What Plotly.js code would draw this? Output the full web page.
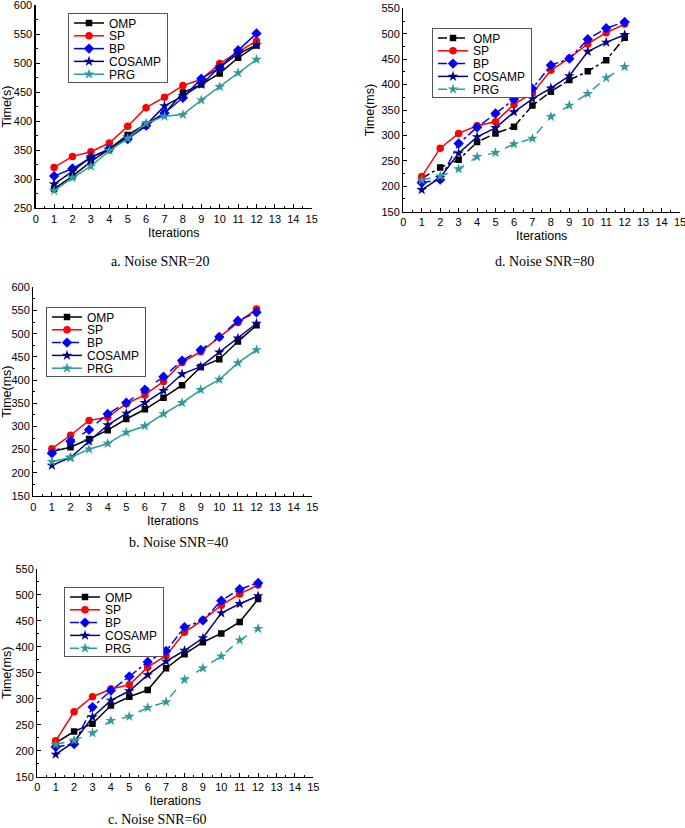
<!DOCTYPE html>
<html>
<head>
<meta charset="utf-8">
<script src="https://cdn.plot.ly/plotly-3.0.1.min.js"></script>
<style>html,body{margin:0;padding:0;background:#fff;}#chart{width:685px;height:828px;}</style>
</head>
<body>
<div id="chart"></div>
<script>
// ---- data ----
const iterations = [1,2,3,4,5,6,7,8,9,10,11,12];
const seriesNames = ['OMP','SP','BP','COSAMP','PRG'];

// a. Noise SNR=20  (Time in s)
const a_OMP    = [283,305,330,352,376,394,413,449,463,482,509,530];
const a_SP     = [320,339,347,362,391,423,441,461,472,499,519,538];
const a_BP     = [305,318,337,352,369,392,414,440,473,492,522,551];
const a_COSAMP = [291,313,338,351,372,393,426,443,463,493,516,531];
const a_PRG    = [280,302,322,349,370,396,408,411,436,459,483,506];

// b. Noise SNR=40  (Time in ms)
const b_OMP    = [246,255,273,292,316,337,362,389,428,445,483,518];
const b_SP     = [252,281,313,320,349,368,397,438,461,493,524,553];
const b_BP     = [242,268,293,327,351,379,407,442,465,493,528,546];
const b_COSAMP = [216,233,268,303,328,351,377,413,429,460,490,522];
const b_PRG    = [224,233,251,263,287,301,327,351,379,401,437,465];

// c. Noise SNR=60  (Time in ms)
const c_OMP    = [215,237,252,287,304,317,359,386,409,426,448,492];
const c_SP     = [219,275,304,319,327,361,383,428,452,480,502,519];
const c_BP     = [207,213,284,316,343,371,392,438,451,489,511,523];
const c_COSAMP = [193,217,265,297,315,346,372,393,417,465,483,498];
const c_PRG    = [212,220,234,258,266,283,294,337,359,382,413,435];

// d. Noise SNR=80  (Time in ms)
const d_OMP    = [215,237,252,287,304,317,359,386,409,426,448,492];
const d_SP     = [219,275,304,319,327,361,383,428,452,480,502,519];
const d_BP     = [207,213,284,316,343,371,392,438,451,489,511,523];
const d_COSAMP = [193,217,265,297,315,346,372,393,417,465,483,498];
const d_PRG    = [212,220,234,258,266,283,294,337,359,382,413,435];

const xTickVals = [0,1,2,3,4,5,6,7,8,9,10,11,12,13,14,15];

// ---- styles ----
const colors = {OMP:'#000000', SP:'#ff0000', BP:'#0000ff', COSAMP:'#000080', PRG:'#2f9a9a'};
const symbols = {OMP:'square', SP:'circle', BP:'diamond', COSAMP:'star', PRG:'star'};
const msize = {OMP:6.5, SP:7.5, BP:8, COSAMP:8, PRG:8};

const panels = [
  {key:'a', xa:'x',  ya:'y',  legend:'legend',  data:[a_OMP,a_SP,a_BP,a_COSAMP,a_PRG],
   dash:['solid','solid','solid','solid','solid']},
  {key:'d', xa:'x2', ya:'y2', legend:'legend2', data:[d_OMP,d_SP,d_BP,d_COSAMP,d_PRG],
   dash:['dashdot','solid','dashdot','solid','dash']},
  {key:'b', xa:'x3', ya:'y3', legend:'legend3', data:[b_OMP,b_SP,b_BP,b_COSAMP,b_PRG],
   dash:['solid','solid','dash','solid','solid']},
  {key:'c', xa:'x4', ya:'y4', legend:'legend4', data:[c_OMP,c_SP,c_BP,c_COSAMP,c_PRG],
   dash:['solid','solid','dashdot','solid','dash']}
];

const traces = [];
panels.forEach(p => {
  seriesNames.forEach((n, i) => {
    traces.push({
      type:'scatter', mode:'lines+markers', name:n,
      x: iterations, y: p.data[i], xaxis:p.xa, yaxis:p.ya, legend:p.legend,
      line:{color:colors[n], width:1.5, dash:p.dash[i]},
      marker:{color:colors[n], symbol:symbols[n], size:msize[n]}
    });
  });
});

const W = 685, H = 828;
function xdom(l, r){ return [l/W, r/W]; }
function ydom(t, b){ return [1 - b/H, 1 - t/H]; }

const tickFont = {family:'Liberation Sans, Arial, sans-serif', size:11, color:'#000'};
const titleFont = {family:'Liberation Sans, Arial, sans-serif', size:12.5, color:'#000'};

function xAxis(dom, anchor){
  return {domain:dom, anchor:anchor, range:[0,15], tickvals:xTickVals, ticks:'inside', ticklen:4,
    tickwidth:1, tickcolor:'#000', showline:true, linecolor:'#000', linewidth:1.3,
    showgrid:false, zeroline:false, tickfont:tickFont, ticklabeloverflow:'allow',
    minor:{dtick:0.5, ticks:'inside', ticklen:2, tickcolor:'#000', tickwidth:1, showgrid:false},
    title:{text:'Iterations', font:titleFont, standoff:4}};
}
function yAxis(dom, anchor, range, title){
  return {domain:dom, anchor:anchor, range:range, dtick:50, ticks:'inside', ticklen:4,
    tickwidth:1, tickcolor:'#000', showline:true, linecolor:'#000', linewidth:1.3,
    showgrid:false, zeroline:false, tickfont:tickFont, ticklabeloverflow:'allow',
    minor:{dtick:25, ticks:'inside', ticklen:2, tickcolor:'#000', tickwidth:1, showgrid:false},
    title:{text:title, font:titleFont, standoff:4}};
}
function legendAt(x, y){
  return {x:x/W, y:1 - y/H, xanchor:'left', yanchor:'top', bgcolor:'#fff',
    bordercolor:'#555', borderwidth:1,
    font:{family:'Liberation Sans, Arial, sans-serif', size:12, color:'#000'},
    tracegroupgap:0, itemwidth:30};
}
const capFont = {family:'Liberation Serif, Times New Roman, serif', size:14, color:'#000'};

const layout = {
  width:W, height:H, margin:{l:0,r:0,t:0,b:0}, paper_bgcolor:'#fff', plot_bgcolor:'#fff',
  showlegend:true,
  xaxis:  xAxis(xdom(35.7,311.7), 'y'),
  yaxis:  yAxis(ydom(5,208), 'x', [250,600], 'Time(s)'),
  xaxis2: xAxis(xdom(403.3,680), 'y2'),
  yaxis2: yAxis(ydom(8.3,211.7), 'x2', [150,550], 'Time(ms)'),
  xaxis3: xAxis(xdom(33.3,312.3), 'y3'),
  yaxis3: yAxis(ydom(287.3,496), 'x3', [150,600], 'Time(ms)'),
  xaxis4: xAxis(xdom(37.3,313.3), 'y4'),
  yaxis4: yAxis(ydom(569,776.7), 'x4', [150,550], 'Time(ms)'),
  legend:  legendAt(68,13),
  legend2: legendAt(432,28),
  legend3: legendAt(46,307),
  legend4: legendAt(64,587),
  annotations:[
    {text:'a. Noise SNR=20', xref:'paper', yref:'paper', x:160/W, y:1-261/H, showarrow:false, font:capFont, xanchor:'center', yanchor:'middle'},
    {text:'d. Noise SNR=80', xref:'paper', yref:'paper', x:544/W, y:1-261/H, showarrow:false, font:capFont, xanchor:'center', yanchor:'middle'},
    {text:'b. Noise SNR=40', xref:'paper', yref:'paper', x:178/W, y:1-542/H, showarrow:false, font:capFont, xanchor:'center', yanchor:'middle'},
    {text:'c. Noise SNR=60', xref:'paper', yref:'paper', x:157/W, y:1-819/H, showarrow:false, font:capFont, xanchor:'center', yanchor:'middle'}
  ]
};

// compact legend rows (the reference legends use ~12.8px row spacing)
function compactLegends(gd){
  const step = 12.8, topPad = 10, botPad = 8;
  ['legend','legend2','legend3','legend4'].forEach(id => {
    const lg = gd.querySelector('g.' + id);
    if(!lg) return;
    const items = lg.querySelectorAll('g.traces');
    items.forEach((it, i) => {
      const tr = it.getAttribute('transform') || '';
      const m = tr.match(/translate\(\s*([-\d.]+)[ ,]+([-\d.]+)\s*\)/);
      const x = m ? parseFloat(m[1]) : 0;
      it.setAttribute('transform', 'translate(' + x + ',' + (topPad + i*step) + ')');
    });
    const bg = lg.querySelector('rect.bg');
    if(bg){ bg.setAttribute('height', topPad + (items.length-1)*step + botPad); }
  });
}

Plotly.newPlot('chart', traces, layout, {displayModeBar:false, staticPlot:true}).then(compactLegends);
</script>
</body>
</html>
